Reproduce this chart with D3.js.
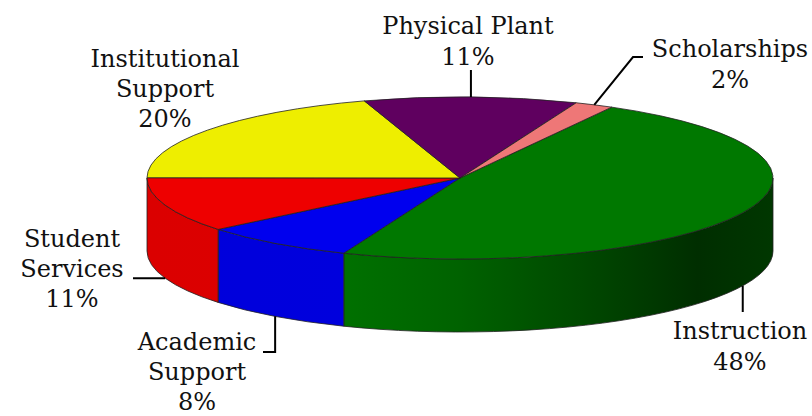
<!DOCTYPE html>
<html>
<head>
<meta charset="utf-8">
<script src="https://cdn.jsdelivr.net/npm/d3@7"></script>
<style>
  body { margin: 0; background: #fff; }
  svg { display: block; }
</style>
</head>
<body>
<div id="chart"></div>
<script>
// data
var categories = ["Instruction", "Academic Support", "Student Services", "Institutional Support", "Physical Plant", "Scholarships"];
var percents = [48, 8, 11, 20, 11, 2];
var sliceColors = ["#007800", "#0000ee", "#ee0000", "#eeee00", "#5f005f", "#ee7777"];

// label text lines
var labelLines = [
  ["Instruction", "48%"],
  ["Academic", "Support", "8%"],
  ["Student", "Services", "11%"],
  ["Institutional", "Support", "20%"],
  ["Physical Plant", "11%"],
  ["Scholarships", "2%"]
];

var svgWidth = 812, svgHeight = 416;

var svg = d3.select("#chart")
  .append("svg")
  .attr("width", svgWidth)
  .attr("height", svgHeight);

// ellipse geometry
var cx = 460, cy = 178, rx = 313, ry = 81, depth = 73;
var startAngle = 29 * Math.PI / 180;

function pt(a, dy) {
  return [cx + rx * Math.sin(a), cy - ry * Math.cos(a) + (dy || 0)];
}

var color = d3.scaleOrdinal().domain(categories).range(sliceColors);

var pie = d3.pie()
  .sort(null)
  .value(d => d.value)
  .startAngle(startAngle)
  .endAngle(startAngle + 2 * Math.PI);

var data = categories.map((c, i) => ({ name: c, value: percents[i], lines: labelLines[i] }));
var arcs = pie(data);

// side shading gradients
var defs = svg.append("defs");
var shade = [[0, 0.92], [0.32, 0.93], [0.5, 0.82], [0.7, 0.6], [0.88, 0.38], [1, 0.46]];
arcs.forEach((d, i) => {
  var g = defs.append("linearGradient")
    .attr("id", "side" + i)
    .attr("gradientUnits", "userSpaceOnUse")
    .attr("x1", cx - rx).attr("x2", cx + rx)
    .attr("y1", 0).attr("y2", 0);
  var base = d3.rgb(color(d.data.name));
  shade.forEach(s => {
    g.append("stop")
      .attr("offset", s[0])
      .attr("stop-color", d3.rgb(base.r * s[1], base.g * s[1], base.b * s[1]));
  });
});

// front side walls (angles between 90deg and 270deg)
function frontPart(d) {
  var lo = Math.PI / 2, hi = 3 * Math.PI / 2;
  var parts = [];
  [0, 2 * Math.PI].forEach(off => {
    var s0 = Math.max(d.startAngle, lo + off);
    var s1 = Math.min(d.endAngle, hi + off);
    if (s1 > s0) parts.push([s0, s1]);
  });
  return parts;
}

var sides = svg.append("g");
arcs.forEach((d, i) => {
  frontPart(d).forEach(p => {
    var a = pt(p[0]), b = pt(p[1]), c = pt(p[1], depth), e = pt(p[0], depth);
    sides.append("path")
      .attr("d", `M${a}A${rx},${ry} 0 0 1 ${b}L${c}A${rx},${ry} 0 0 0 ${e}Z`)
      .attr("fill", `url(#side${i})`)
      .attr("stroke", "#222")
      .attr("stroke-width", 0.8);
  });
});

// top faces
svg.append("g").selectAll("path")
  .data(arcs)
  .enter()
  .append("path")
  .attr("d", d => {
    var a = pt(d.startAngle), b = pt(d.endAngle);
    var large = d.endAngle - d.startAngle > Math.PI ? 1 : 0;
    return `M${cx},${cy}L${a}A${rx},${ry} 0 ${large} 1 ${b}Z`;
  })
  .attr("fill", d => color(d.data.name))
  .attr("stroke", "#222")
  .attr("stroke-width", 0.8)
  .attr("stroke-linejoin", "round");

// labels
var labelPos = {
  "Instruction": { x: 740, y: 339 },
  "Academic Support": { x: 197, y: 350 },
  "Student Services": { x: 72, y: 247 },
  "Institutional Support": { x: 165, y: 67 },
  "Physical Plant": { x: 468, y: 34 },
  "Scholarships": { x: 730, y: 57 }
};

// leader lines: start at slice mid angle on the pie edge
var leaderBends = {
  "Instruction": d => [[d[0], 312]],
  "Academic Support": d => [[d[0], 352], [263, 352]],
  "Student Services": d => [[133, d[1]]],
  "Physical Plant": d => [[d[0], 70]],
  "Scholarships": d => [[633, 57], [643, 57]]
};

var leaders = svg.append("g")
  .attr("fill", "none")
  .attr("stroke", "#000")
  .attr("stroke-width", 2);

arcs.forEach(d => {
  var bend = leaderBends[d.data.name];
  if (!bend) return;
  var mid = (d.startAngle + d.endAngle) / 2;
  var front = Math.cos(mid) < 0;
  var start = pt(mid, front ? depth : 0);
  leaders.append("path")
    .attr("d", d3.line()([start].concat(bend(start))));
});

var labels = svg.append("g")
  .attr("font-family", "'DejaVu Serif', 'Liberation Serif', serif")
  .attr("font-size", 24)
  .attr("fill", "#111")
  .attr("text-anchor", "middle");

arcs.forEach(d => {
  var pos = labelPos[d.data.name];
  var t = labels.append("text")
    .attr("x", pos.x)
    .attr("y", pos.y);
  d.data.lines.forEach((line, j) => {
    t.append("tspan")
      .attr("x", pos.x)
      .attr("y", pos.y + j * (d.data.lines.length > 2 ? 30 : 30.5))
      .text(line);
  });
});
</script>
</body>
</html>
